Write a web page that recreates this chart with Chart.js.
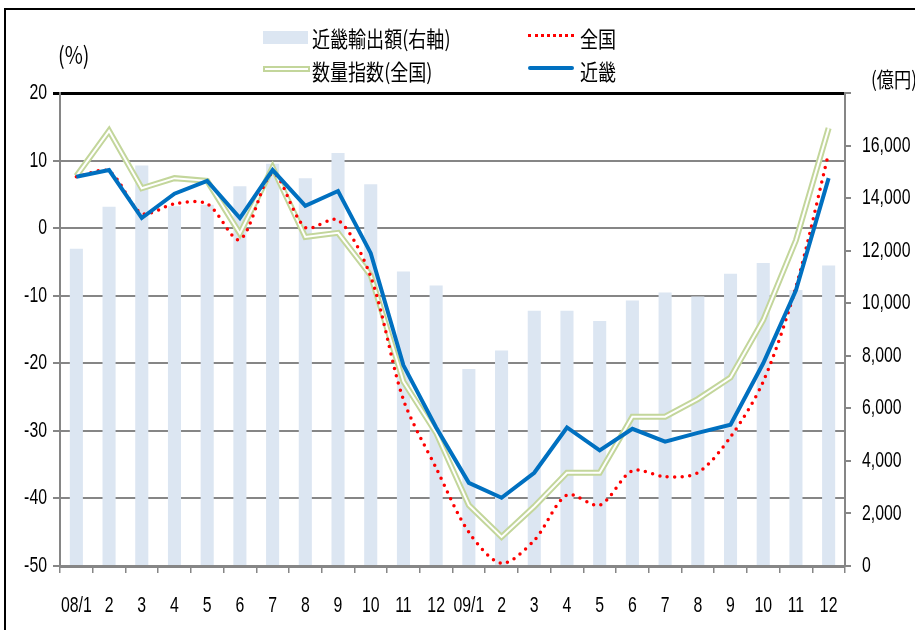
<!DOCTYPE html>
<html>
<head>
<meta charset="utf-8">
<script src="https://cdn.jsdelivr.net/npm/chart.js@4"></script>
<style>
  html, body { margin: 0; padding: 0; background: #fff; overflow: hidden; }
  #wrap { position: relative; width: 915px; height: 630px; }
  #frame { position: absolute; left: 4px; top: 8px; width: 1000px; height: 1000px; border: 2px solid #000; pointer-events: none; }
  .lbl { position: absolute; font-family: "Noto Sans CJK JP", sans-serif; color: #000; white-space: nowrap; transform-origin: left center; transform: scaleX(0.82); }
  .sw { position: absolute; }
</style>
</head>
<body>
<div id="wrap">
  <canvas id="grafico" width="915" height="630"></canvas>
  <div id="frame"></div>

  <!-- legenda -->
  <div class="sw" style="left:263px;top:31px;width:45px;height:13px;background:#dce6f2"></div>
  <div class="lbl" style="left:312px;top:21px;font-size:22px">近畿輸出額(右軸)</div>
  <div class="sw" style="left:528px;top:34px;width:46px;height:0;border-top:3px dotted #ff0000"></div>
  <div class="lbl" style="left:580px;top:21px;font-size:22px">全国</div>
  <div class="sw" style="left:263px;top:66px;width:43px;height:2px;border:2px solid #c3d69b;background:#fff"></div>
  <div class="lbl" style="left:312px;top:54px;font-size:22px">数量指数(全国)</div>
  <div class="sw" style="left:528px;top:66px;width:46px;height:4px;background:#0070c0;border-radius:2px"></div>
  <div class="lbl" style="left:580px;top:54px;font-size:22px">近畿</div>

  <!-- unidades -->
  <div class="lbl" style="left:58px;top:36px;font-size:24px">(%)</div>
  <div class="lbl" style="left:871px;top:63px;font-size:21px">(億円)</div>
</div>

<script>
// ===== DADOS =====
const meses = ['08/1','2','3','4','5','6','7','8','9','10','11','12',
               '09/1','2','3','4','5','6','7','8','9','10','11','12'];

// 近畿輸出額 (億円, eixo direito)
const exportKinki = [12070, 13670, 15240, 13690, 13750, 14450, 15310, 14760, 15720, 14530, 11210, 10670,
                     7500, 8200, 9710, 9710, 9320, 10100, 10410, 10260, 11120, 11530, 10500, 11440];

// 全国 (%)
const zenkoku = [7.6, 8.4, 2.2, 3.6, 3.6, -1.7, 8.1, 0.1, 1.2, -7.2, -25.4, -35.5,
                 -45.0, -49.6, -46.2, -39.5, -41.0, -35.9, -36.8, -36.2, -30.9, -22.7, -8.7, 11.1];

// 数量指数(全国) (%)
const suryoShisu = [7.7, 14.4, 5.9, 7.4, 7.0, -0.8, 9.0, -1.3, -0.7, -7.0, -22.7, -30.3,
                    -41.0, -45.7, -41.2, -36.2, -36.2, -27.9, -27.9, -25.3, -22.1, -13.6, -1.8, 14.8];

// 近畿 (%)
const kinki = [7.6, 8.6, 1.5, 5.1, 7.0, 1.5, 8.6, 3.3, 5.5, -3.7, -20.3, -29.5,
               -37.7, -39.9, -36.2, -29.5, -32.9, -29.7, -31.6, -30.3, -29.1, -20.0, -9.2, 7.4];

// ticks
const ticksEsq = { min: -50, max: 20, passo: 10 };
const ticksDir = { min: 0, max: 18000, passo: 2000 };

// ===== ESTILO =====
const fonteNum = { family: "'Liberation Sans', Arial, sans-serif", size: 22 };
const cinza = '#868686';
const ESTREITO = 0.72; // numeros estreitos como no original

// ===== GRÁFICO =====
const ctx = document.getElementById('grafico').getContext('2d');

// texto do canvas comprimido na horizontal (mantem alinhamento no ponto x)
const fillOrig = ctx.fillText.bind(ctx);
ctx.fillText = function(t, x, y, mw) {
  ctx.save();
  ctx.translate(x, y);
  ctx.scale(ESTREITO, 1);
  fillOrig(t, 0, 0, mw);
  ctx.restore();
};

const grafico = new Chart(ctx, {
  type: 'bar',
  data: {
    labels: meses,
    datasets: [
      {
        type: 'line', label: '近畿', data: kinki, yAxisID: 'y',
        borderColor: '#0070c0', borderWidth: 4, pointRadius: 0, tension: 0, order: 1
      },
      {
        type: 'line', label: '全国', data: zenkoku, yAxisID: 'y',
        borderColor: '#ff0000', borderWidth: 3.5, borderDash: [0, 7.5], borderCapStyle: 'round',
        pointRadius: 0, tension: 0.3, order: 2
      },
      {
        type: 'line', label: '数量指数(全国)_inner', data: suryoShisu, yAxisID: 'y',
        borderColor: '#ffffff', borderWidth: 2, pointRadius: 0, tension: 0, order: 3
      },
      {
        type: 'line', label: '数量指数(全国)', data: suryoShisu, yAxisID: 'y',
        borderColor: '#c3d69b', borderWidth: 6, pointRadius: 0, tension: 0, order: 4
      },
      {
        type: 'bar', label: '近畿輸出額(右軸)', data: exportKinki, yAxisID: 'y2',
        backgroundColor: '#dce6f2', barPercentage: 0.4, categoryPercentage: 1, order: 5
      }
    ]
  },
  options: {
    responsive: false,
    animation: false,
    layout: { padding: { top: 93, left: 0, right: 0, bottom: 0 } },
    plugins: { legend: { display: false }, tooltip: { enabled: false } },
    scales: {
      x: {
        offset: true,
        grid: { offset: true, drawOnChartArea: false, color: cinza, lineWidth: 1.5, tickLength: 7 },
        border: { color: cinza, width: 3 },
        ticks: { color: '#000', font: fonteNum, padding: 20, maxRotation: 0, autoSkip: false },
        afterFit: s => { s.height = 64; }
      },
      y: {
        position: 'left',
        min: ticksEsq.min, max: ticksEsq.max,
        grid: {
          color: c => c.tick && c.tick.value === ticksEsq.max ? '#000' : cinza,
          lineWidth: c => c.tick && c.tick.value === ticksEsq.max ? 3 : 2,
          tickLength: 7
        },
        border: { color: cinza, width: 2 },
        ticks: { stepSize: ticksEsq.passo, color: '#000', font: fonteNum, padding: 6 },
        afterFit: s => { s.width = 60; }
      },
      y2: {
        position: 'right',
        min: ticksDir.min, max: ticksDir.max,
        grid: { drawOnChartArea: false, color: cinza, lineWidth: 2, tickLength: 6 },
        border: { color: cinza, width: 2 },
        ticks: {
          stepSize: ticksDir.passo, color: '#000', font: fonteNum, padding: 11,
          callback: v => v === ticksDir.max ? '' : v.toLocaleString('en-US')
        },
        afterFit: s => { s.width = 70; }
      }
    }
  }
});
</script>
</body>
</html>
